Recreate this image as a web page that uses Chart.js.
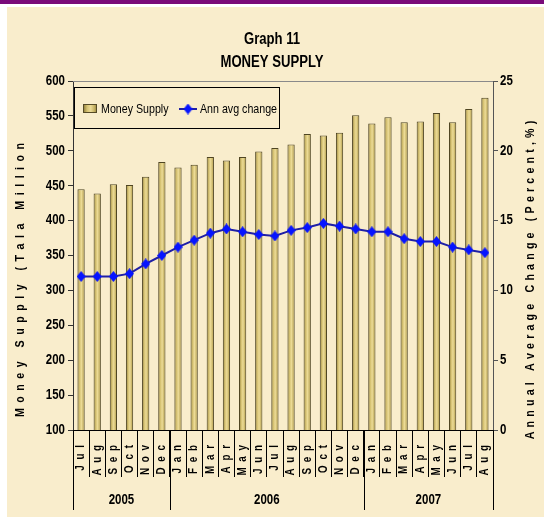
<!DOCTYPE html>
<html>
<head>
<meta charset="utf-8">
<script src="https://cdn.jsdelivr.net/npm/chart.js@4/dist/chart.umd.min.js"></script>
<style>
html, body { margin: 0; padding: 0; }
body { width: 544px; height: 517px; position: relative; background: #fff; overflow: hidden; }
#band { position: absolute; left: 0; top: 0; width: 544px; height: 4px; background: #7a0a79; }
#paper { position: absolute; left: 7px; top: 7px; right: 0; bottom: 0; background: #f9edcc; }
#wrap { position: absolute; left: 0; top: 0; width: 544px; height: 517px; }
</style>
</head>
<body>
<div id="band"></div>
<div id="paper"></div>
<div id="wrap"><canvas id="moneyChart" width="544" height="517"></canvas></div>
<script>
// data
var months = ['Jul', 'Aug', 'Sep', 'Oct', 'Nov', 'Dec',
    'Jan', 'Feb', 'Mar', 'Apr', 'May', 'Jun', 'Jul', 'Aug', 'Sep', 'Oct', 'Nov', 'Dec',
    'Jan', 'Feb', 'Mar', 'Apr', 'May', 'Jun', 'Jul', 'Aug'];
var years = ['2005', '2006', '2007'];
var monthsPerYear = [6, 12, 8];
var moneySupply = [445, 439, 452, 451, 463, 484, 476, 480, 491, 486, 491, 499, 504,
    509, 524, 522, 526, 551, 539, 548, 541, 542, 554, 541, 560, 576];
var annAvgChange = [11.0, 11.0, 11.0, 11.2, 11.9, 12.5, 13.1, 13.6, 14.1, 14.4, 14.2, 14.0, 13.9,
    14.3, 14.5, 14.8, 14.6, 14.4, 14.2, 14.2, 13.7, 13.5, 13.5, 13.1, 12.9, 12.7];
var titleLines = ['Graph 11', 'MONEY SUPPLY'];
var leftTitle = 'Money Supply (Tala Million';
var rightTitle = 'Annual Average Change (Percent,%)';

var FONT = "'Liberation Sans', Arial, sans-serif";
var NARROW = 0.82;
var BAR_PCT = 0.45;

function goldGradient(c, x0, x1) {
    var g = c.createLinearGradient(x0, 0, x1, 0);
    g.addColorStop(0, '#857433');
    g.addColorStop(0.3, '#d6c272');
    g.addColorStop(0.55, '#ecdb96');
    g.addColorStop(0.8, '#c8b466');
    g.addColorStop(1, '#8f7e38');
    return g;
}

function barFill(context) {
    var chart = context.chart;
    var xs = chart.scales.x;
    if (!xs || context.dataIndex == null) return '#cdb96a';
    var cx = xs.getPixelForValue(context.dataIndex);
    var half = (xs.width / months.length) * BAR_PCT / 2;
    if (!isFinite(cx) || !isFinite(half) || half <= 0) return '#cdb96a';
    return goldGradient(chart.ctx, cx - half, cx + half);
}

// tall diamond marker
var diamond = document.createElement('canvas');
diamond.width = 9;
diamond.height = 11;
(function () {
    var d = diamond.getContext('2d');
    d.fillStyle = '#0614ff';
    d.beginPath();
    d.moveTo(4.5, 0);
    d.lineTo(9, 5.5);
    d.lineTo(4.5, 11);
    d.lineTo(0, 5.5);
    d.closePath();
    d.fill();
})();

function spacedText(c, text, x, y, gap, align) {
    var widths = [], total = 0;
    for (var i = 0; i < text.length; i++) {
        var w = c.measureText(text[i]).width;
        widths.push(w);
        total += w;
    }
    total += gap * (text.length - 1);
    var sx = align === 'center' ? x - total / 2 : (align === 'right' ? x - total : x);
    c.textAlign = 'left';
    for (var j = 0; j < text.length; j++) {
        c.fillText(text[j], sx, y);
        sx += widths[j] + gap;
    }
}

// arial-narrow look: squeeze the text sideways
function narrowText(c, text, x, y, align) {
    var w = c.measureText(text).width * NARROW;
    var sx = align === 'center' ? x - w / 2 : (align === 'right' ? x - w : x);
    c.save();
    c.translate(sx, y);
    c.scale(NARROW, 1);
    c.textAlign = 'left';
    c.fillText(text, 0, 0);
    c.restore();
}

var extras = {
    id: 'extras',
    afterDraw: function (chart) {
        var c = chart.ctx;
        var area = chart.chartArea;
        var xs = chart.scales.x;
        var ys = chart.scales.y;
        var ys1 = chart.scales.y1;
        var step = xs.width / months.length;
        c.save();

        // top border of the plot
        c.strokeStyle = '#8a8a8a';
        c.lineWidth = 1;
        c.beginPath();
        c.moveTo(area.left, area.top + 0.5);
        c.lineTo(area.right, area.top + 0.5);
        c.stroke();

        c.fillStyle = '#000';
        c.textBaseline = 'middle';

        // chart title
        c.font = 'bold 16px ' + FONT;
        narrowText(c, titleLines[0], 272, 40, 'center');
        narrowText(c, titleLines[1], 272, 63, 'center');

        // tick labels
        c.font = 'bold 14px ' + FONT;
        ys.ticks.forEach(function (t) {
            narrowText(c, String(t.value), area.left - 8, ys.getPixelForValue(t.value), 'right');
        });
        ys1.ticks.forEach(function (t) {
            narrowText(c, String(t.value), area.right + 7, ys1.getPixelForValue(t.value), 'left');
        });

        // axis titles
        c.font = 'bold 13px ' + FONT;
        c.save();
        c.translate(20, 280);
        c.rotate(-Math.PI / 2);
        c.scale(NARROW, 1);
        spacedText(c, leftTitle, 0, 0, 6.7, 'center');
        c.restore();
        c.save();
        c.translate(530, 280);
        c.rotate(-Math.PI / 2);
        c.scale(NARROW, 1);
        spacedText(c, rightTitle, 0, 0, 5.1, 'center');
        c.restore();

        // month labels
        c.font = 'bold 12px ' + FONT;
        months.forEach(function (m, i) {
            var x = xs.getPixelForValue(i);
            c.save();
            c.translate(x, area.bottom + 15);
            c.rotate(-Math.PI / 2);
            c.scale(NARROW, 1);
            spacedText(c, m, 0, 0, 7, 'right');
            c.restore();
        });

        // year separators and labels
        c.strokeStyle = '#000';
        c.font = 'bold 14px ' + FONT;
        var start = 0;
        var edges = [area.left];
        monthsPerYear.forEach(function (n, k) {
            var x0 = xs.getPixelForValue(start) - step / 2;
            var x1 = xs.getPixelForValue(start + n - 1) + step / 2;
            edges.push(x1);
            narrowText(c, years[k], (x0 + x1) / 2, area.bottom + 70, 'center');
            start += n;
        });
        edges.forEach(function (x) {
            c.beginPath();
            c.moveTo(Math.round(x) + 0.5, area.bottom);
            c.lineTo(Math.round(x) + 0.5, area.bottom + 80);
            c.stroke();
        });

        // legend
        var ds = chart.data.datasets;
        c.strokeStyle = '#000';
        c.strokeRect(74.5, 87.5, 205, 41);
        c.fillStyle = goldGradient(c, 83, 97);
        c.fillRect(83, 104, 14, 9);
        c.strokeStyle = '#554a26';
        c.strokeRect(83.5, 104.5, 13, 8);
        c.fillStyle = '#000';
        c.font = '13px ' + FONT;
        narrowText(c, ds[0].label, 101, 109, 'left');
        c.strokeStyle = ds[1].borderColor;
        c.lineWidth = 2;
        c.beginPath();
        c.moveTo(179, 109);
        c.lineTo(197, 109);
        c.stroke();
        c.drawImage(diamond, 188 - 4.5, 109 - 5.5);
        narrowText(c, ds[1].label, 200, 109, 'left');

        c.restore();
    }
};

var ctx = document.getElementById('moneyChart');
var chart = new Chart(ctx, {
    type: 'bar',
    data: {
        labels: months,
        datasets: [
            {
                type: 'bar',
                label: 'Money Supply',
                data: moneySupply,
                yAxisID: 'y',
                backgroundColor: barFill,
                borderColor: '#4f4522',
                borderWidth: 1,
                barPercentage: BAR_PCT,
                categoryPercentage: 1,
                order: 1
            },
            {
                type: 'line',
                label: 'Ann avg change',
                data: annAvgChange,
                yAxisID: 'y1',
                borderColor: '#1f1fa6',
                borderWidth: 2,
                backgroundColor: '#0614ff',
                pointStyle: diamond,
                pointRadius: 5,
                tension: 0,
                order: 0
            }
        ]
    },
    options: {
        responsive: false,
        animation: false,
        layout: { padding: { top: 81, bottom: 40, left: 0, right: 0 } },
        plugins: {
            legend: { display: false },
            tooltip: { enabled: false },
            title: { display: false }
        },
        scales: {
            x: {
                offset: true,
                grid: { offset: true, drawOnChartArea: false, tickLength: 47, color: '#000' },
                border: { color: '#000' },
                ticks: { display: false }
            },
            y: {
                position: 'left',
                min: 100,
                max: 600,
                ticks: { display: false, stepSize: 50 },
                grid: { drawOnChartArea: false, tickLength: 5, color: '#333' },
                border: { color: '#333' },
                afterFit: function (s) { s.width = 73; }
            },
            y1: {
                position: 'right',
                min: 0,
                max: 25,
                ticks: { display: false, stepSize: 5 },
                grid: { drawOnChartArea: false, tickLength: 5, color: '#555' },
                border: { color: '#555' },
                afterFit: function (s) { s.width = 51; }
            }
        }
    },
    plugins: [extras]
});
</script>
</body>
</html>
